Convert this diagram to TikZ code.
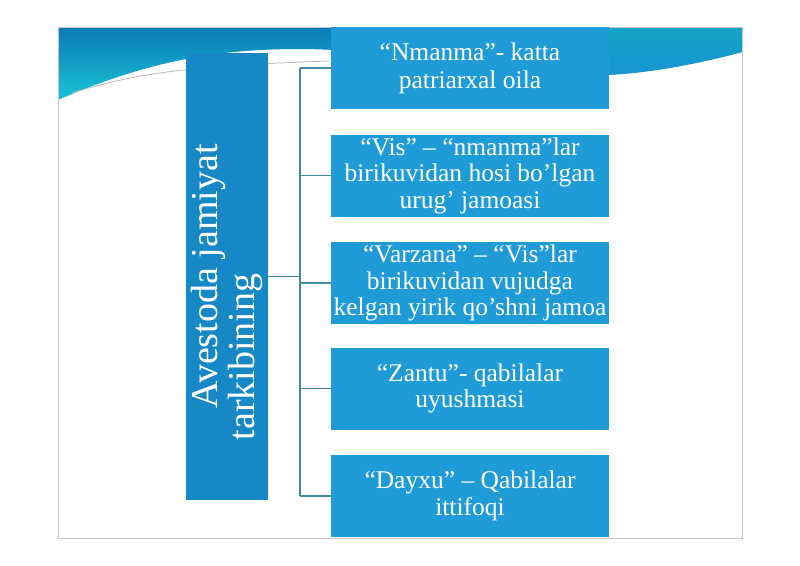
\documentclass[tikz,border=0pt]{standalone}
\usepackage{fontspec}
\setmainfont{Liberation Serif}
\definecolor{leftblue}{RGB}{22,136,198}
\definecolor{boxblue}{RGB}{31,155,215}
\definecolor{hdtop}{RGB}{10,122,182}
\definecolor{hdbot}{RGB}{26,196,216}
\definecolor{hdrtop}{RGB}{18,165,198}
\definecolor{hdrbot}{RGB}{24,148,210}
\definecolor{linkcol}{RGB}{62,140,165}
\tikzset{
  itembox/.style={fill=boxblue, text=white, minimum width=278pt, minimum height=82pt,
    inner sep=1pt, align=center, font=\fontsize{25.5}{26.5}\selectfont},
  titlebox/.style={fill=leftblue, text=white, rotate=90, minimum width=447pt, minimum height=82pt,
    inner sep=1pt, align=center, font=\fontsize{38}{37}\selectfont},
  link/.style={draw=linkcol, line width=1.3pt}
}
\begin{document}
\begin{tikzpicture}[x=1pt,y=-1pt]
\useasboundingbox (0,0) rectangle (800,565);
\fill[white] (0,0) rectangle (800,565);
% header wave (left part)
\shade[top color=hdtop, bottom color=hdbot]
  (58,27) -- (742,27) -- (742,52)
  .. controls (690,66) and (640,74) .. (600,75)
  .. controls (500,76) and (420,50) .. (300,49)
  .. controls (220,49) and (150,60) .. (58,100) -- cycle;
% header wave (right part, more teal)
\shade[top color=hdrtop, bottom color=hdrbot]
  (605,27) -- (742,27) -- (742,52)
  .. controls (690,66) and (640,74) .. (605,75) -- cycle;
\draw[gray!55, line width=0.8pt] (72,93) .. controls (130,75) and (180,66) .. (330,61);
% slide frame
\draw[gray!45, line width=0.8pt] (58,27) rectangle (742,538);
% left title box
\node[titlebox] (title) at (227,276.5) {Avestoda jamiyat\\tarkibining\hspace*{161pt}};
% right boxes
\node[itembox, font=\fontsize{25.5}{28}\selectfont] (b1) at (470,68) {“Nmanma”- katta\\patriarxal oila};
\node[itembox] (b2) at (470,175.5) {“Vis” – “nmanma”lar\\birikuvidan hosi bo’lgan\\urug’ jamoasi};
\node[itembox] (b3) at (470,283) {“Varzana” – “Vis”lar\\birikuvidan vujudga\\kelgan yirik qo’shni jamoa};
\node[itembox] (b4) at (470,388.5) {“Zantu”- qabilalar\\uyushmasi};
\node[itembox] (b5) at (470,496) {“Dayxu” – Qabilalar\\ittifoqi};
% connectors
\coordinate (bustop) at (300,68);
\coordinate (busbot) at (300,496);
\draw[link] (bustop) -- (busbot);
\draw[link] (title.south) -- (title.south -| bustop);
\foreach \b in {b1,b2,b3,b4,b5} {
  \draw[link] (\b.west) -- (\b.west -| bustop);
}
\end{tikzpicture}
\end{document}
